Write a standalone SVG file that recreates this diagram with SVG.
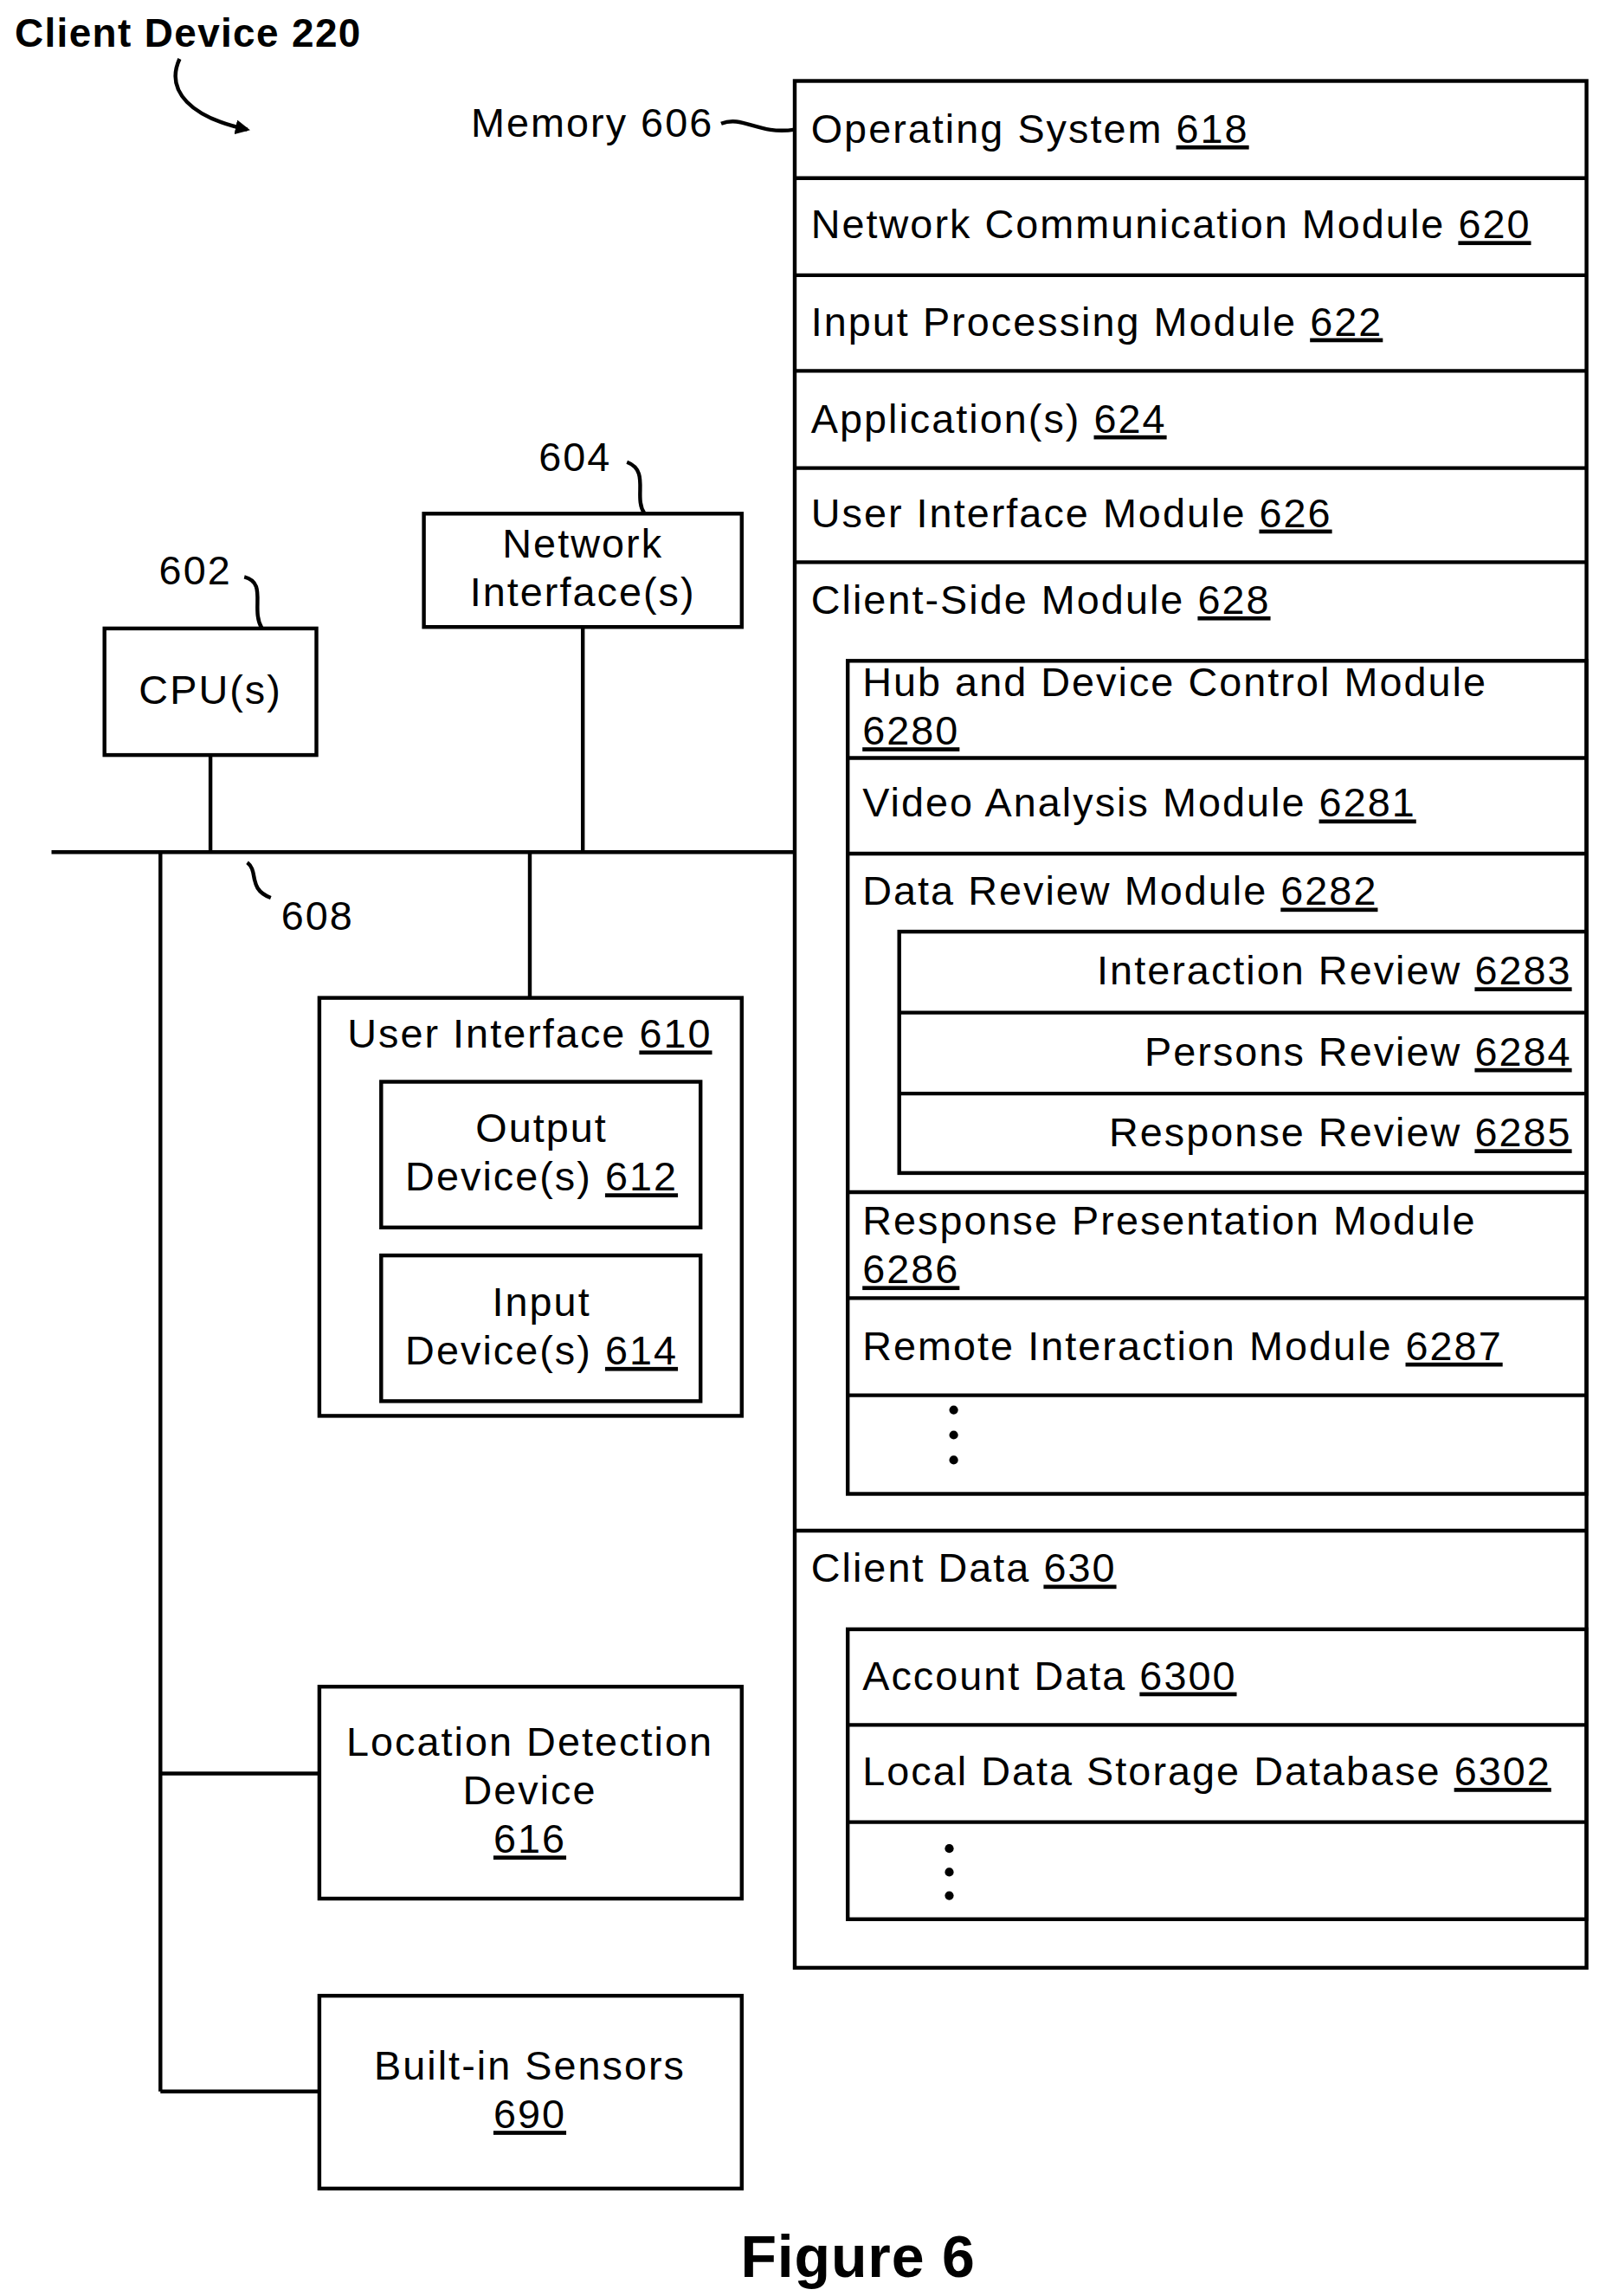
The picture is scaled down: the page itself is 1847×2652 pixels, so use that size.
<svg xmlns="http://www.w3.org/2000/svg" width="1847" height="2652" viewBox="0 0 1847 2652">
<style>
rect{fill:none;stroke:#000;stroke-width:2.6}
line,path{fill:none;stroke:#000;stroke-width:2.6}
text{font-family:"Liberation Sans",Arial,sans-serif;font-size:27.5px;letter-spacing:1.2px;fill:#000}
.u{text-decoration:underline}
.r{text-anchor:end}
.m{text-anchor:middle}
.b{font-weight:bold}
</style>
<defs><marker id="ah" markerWidth="10" markerHeight="10" refX="8" refY="5" orient="auto" markerUnits="userSpaceOnUse"><path d="M0,0 L10,5 L0,10 Z" style="fill:#000;stroke:none"/></marker></defs>
<rect x="0" y="0" width="1847" height="2652" style="fill:#fff;stroke:none"/>
<g transform="scale(1.7)">
<g id="title"><text x="10" y="32" class="b" style="font-size:27px;letter-spacing:0.8px">Client Device 220</text>
<path d="M122,40 C112,62 130,80 168,88" marker-end="url(#ah)"/></g>
<g id="connectors">
<line x1="35" y1="579" x2="540" y2="579"/>
<line x1="143" y1="513" x2="143" y2="579"/>
<line x1="396" y1="426" x2="396" y2="579"/>
<line x1="360" y1="579" x2="360" y2="678"/>
<line x1="109" y1="579" x2="109" y2="1421"/>
<line x1="109" y1="1205" x2="217" y2="1205"/>
<line x1="109" y1="1421" x2="217" y2="1421"/>
<path d="M168,586 C176,592 168,604 184,610"/>
<path d="M166,392 C182,396 170,414 178,427"/>
<path d="M426,314 C442,320 430,338 438,349"/>
<path d="M490,84 C505,78 515,92 540,88"/>
</g>
<g id="label608"><text x="191" y="632">608</text></g>
<g id="label602"><text x="108" y="397">602</text></g>
<g id="label604"><text x="366" y="320">604</text></g>
<g id="label606"><text x="320" y="93">Memory 606</text></g>
<g id="cpu"><rect x="71" y="427" width="144" height="86"/><text x="143" y="478" class="m">CPU(s)</text></g>
<g id="ni"><rect x="288" y="349" width="216" height="77"/><text x="396" y="379" class="m">Network</text><text x="396" y="412" class="m">Interface(s)</text></g>
<g id="ui"><rect x="217" y="678" width="287" height="284"/><text x="236" y="712">User Interface <tspan class="u">610</tspan></text>
<rect x="259" y="735" width="217" height="99"/><text x="368" y="776" class="m">Output</text><text x="368" y="809" class="m">Device(s) <tspan class="u">612</tspan></text>
<rect x="259" y="853" width="217" height="99"/><text x="368" y="894" class="m">Input</text><text x="368" y="927" class="m">Device(s) <tspan class="u">614</tspan></text></g>
<g id="loc"><rect x="217" y="1146" width="287" height="144"/><text x="360" y="1193" class="m">Location Detection</text><text x="360" y="1226" class="m">Device</text><text x="360" y="1259" class="m u">616</text></g>
<g id="sensors"><rect x="217" y="1356" width="287" height="131"/><text x="360" y="1413" class="m">Built-in Sensors</text><text x="360" y="1446" class="m u">690</text></g>
<g id="memory">
<rect x="540" y="55" width="538" height="1282"/>
<line x1="540" y1="121" x2="1078" y2="121"/><line x1="540" y1="187" x2="1078" y2="187"/><line x1="540" y1="252" x2="1078" y2="252"/><line x1="540" y1="318" x2="1078" y2="318"/><line x1="540" y1="382" x2="1078" y2="382"/><line x1="540" y1="1040" x2="1078" y2="1040"/>
<text x="551" y="97">Operating System <tspan class="u">618</tspan></text>
<text x="551" y="162">Network Communication Module <tspan class="u">620</tspan></text>
<text x="551" y="228">Input Processing Module <tspan class="u">622</tspan></text>
<text x="551" y="294">Application(s) <tspan class="u">624</tspan></text>
<text x="551" y="358">User Interface Module <tspan class="u">626</tspan></text>
<text x="551" y="417">Client-Side Module <tspan class="u">628</tspan></text>
<rect x="576" y="449" width="502" height="566"/>
<line x1="576" y1="515" x2="1078" y2="515"/><line x1="576" y1="580" x2="1078" y2="580"/><line x1="576" y1="810" x2="1078" y2="810"/><line x1="576" y1="882" x2="1078" y2="882"/><line x1="576" y1="948" x2="1078" y2="948"/>
<text x="586" y="473">Hub and Device Control Module</text><text x="586" y="506" class="u">6280</text>
<text x="586" y="555">Video Analysis Module <tspan class="u">6281</tspan></text>
<text x="586" y="615">Data Review Module <tspan class="u">6282</tspan></text>
<rect x="611" y="633" width="467" height="164"/><line x1="611" y1="688" x2="1078" y2="688"/><line x1="611" y1="743" x2="1078" y2="743"/>
<text x="1068" y="669" class="r">Interaction Review <tspan class="u">6283</tspan></text>
<text x="1068" y="724" class="r">Persons Review <tspan class="u">6284</tspan></text>
<text x="1068" y="779" class="r">Response Review <tspan class="u">6285</tspan></text>
<text x="586" y="839">Response Presentation Module</text><text x="586" y="872" class="u">6286</text>
<text x="586" y="924">Remote Interaction Module <tspan class="u">6287</tspan></text>
<circle cx="648" cy="958" r="3"/><circle cx="648" cy="975" r="3"/><circle cx="648" cy="992" r="3"/>
<text x="551" y="1075">Client Data <tspan class="u">630</tspan></text>
<rect x="576" y="1107" width="502" height="197"/><line x1="576" y1="1172" x2="1078" y2="1172"/><line x1="576" y1="1238" x2="1078" y2="1238"/>
<text x="586" y="1148">Account Data <tspan class="u">6300</tspan></text>
<text x="586" y="1213">Local Data Storage Database <tspan class="u">6302</tspan></text>
<circle cx="645" cy="1256" r="3"/><circle cx="645" cy="1272" r="3"/><circle cx="645" cy="1288" r="3"/>
</g>
<g id="caption"><text x="583" y="1547" class="m b" style="font-size:40px;letter-spacing:0.5px">Figure 6</text></g>
</g>
</svg>
